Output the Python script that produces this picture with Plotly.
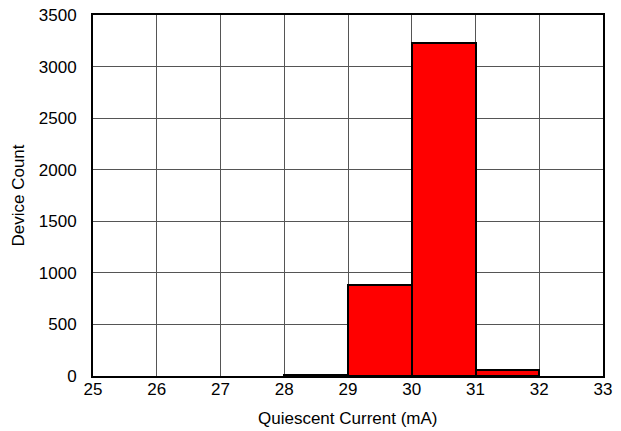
import plotly.graph_objects as go

bin_left = [25, 26, 27, 28, 29, 30, 31, 32]
counts = [0, 0, 0, 10, 880, 3225, 60, 0]
x_ticks = [25, 26, 27, 28, 29, 30, 31, 32, 33]
y_ticks = [0, 500, 1000, 1500, 2000, 2500, 3000, 3500]
x_title = "Quiescent Current (mA)"
y_title = "Device Count"

centers = [b + 0.5 for b in bin_left]
line_widths = [2 if c > 0 else 0 for c in counts]

fig = go.Figure()
fig.add_trace(go.Bar(
    x=centers, y=counts, width=1,
    marker=dict(color="#ff0000", line=dict(color="black", width=line_widths)),
    showlegend=False, hoverinfo="skip",
))

FONT = "Liberation Sans, Arial, Helvetica, sans-serif"
fig.update_layout(
    width=621, height=431,
    margin=dict(l=93, r=18, t=15, b=55),
    plot_bgcolor="white", paper_bgcolor="white",
    font=dict(family=FONT, size=17, color="black"),
    bargap=0,
)
fig.update_xaxes(
    range=[25, 33], tickvals=x_ticks, ticktext=[str(v) for v in x_ticks],
    showgrid=True, gridcolor="#555555", gridwidth=1,
    showline=True, linecolor="black", linewidth=2, mirror=True,
    ticks="", zeroline=False, automargin=False,
    ticklabelstandoff=-3, ticklabeloverflow="allow",
)
fig.update_yaxes(
    range=[0, 3500], tickvals=y_ticks, ticktext=[str(v) for v in y_ticks],
    showgrid=True, gridcolor="#555555", gridwidth=1,
    showline=True, linecolor="black", linewidth=2, mirror=True,
    ticks="", zeroline=False, automargin=False,
    ticklabelstandoff=11, ticklabeloverflow="allow",
)
# plot area: 510 x 361 px
fig.add_annotation(text=x_title, xref="paper", yref="paper", x=0.5, y=-0.119,
                   yanchor="middle", showarrow=False, font=dict(size=17))
fig.add_annotation(text=y_title, xref="paper", yref="paper", x=-0.147, y=0.5,
                   textangle=-90, xanchor="center", yanchor="middle",
                   showarrow=False, font=dict(size=17))
fig.write_html("out.html", config={"displayModeBar": False},
               post_script="document.body.style.margin='0';")
